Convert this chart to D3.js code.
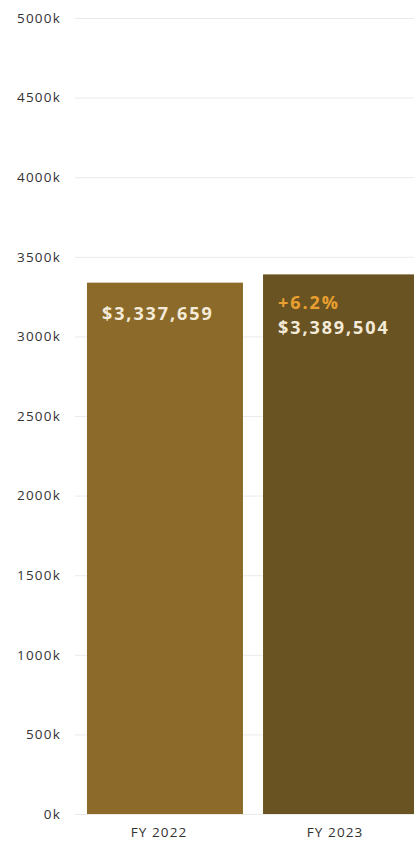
<!DOCTYPE html>
<html>
<head>
<meta charset="utf-8">
<script src="https://cdn.jsdelivr.net/npm/d3@7"></script>
<style>
  html, body { margin: 0; padding: 0; background: #fff; }
  svg { display: block; font-family: "Open Sans", sans-serif; }
</style>
</head>
<body>
<svg id="chart" width="414" height="846"></svg>
<script>
// Annual totals by fiscal year
const years = ["FY 2022", "FY 2023"];
const totals = [3337659, 3389504];
const changeLabels = ["", "+6.2%"];
const barColors = ["#8c6a29", "#6a5322"];
const yTicks = [0, 500000, 1000000, 1500000, 2000000, 2500000, 3000000, 3500000, 4000000, 4500000, 5000000];

const svg = d3.select("#chart");
const margin = { left: 75, top: 18, bottom: 32 };
const height = 846;

const x = d3.scaleBand()
  .domain(years)
  .range([margin.left, 431])
  .paddingInner(0.114)
  .paddingOuter(0.068);

const y = d3.scaleLinear()
  .domain([0, 5000000])
  .range([height - margin.bottom, margin.top]);

// Horizontal gridlines
svg.append("g")
  .selectAll("line")
  .data(yTicks)
  .join("line")
  .attr("x1", margin.left)
  .attr("x2", 414)
  .attr("y1", d => y(d) + 0.5)
  .attr("y2", d => y(d) + 0.5)
  .attr("stroke", "#ebebeb")
  .attr("stroke-width", 1);

// Y axis labels
const yAxis = d3.axisLeft(y)
  .tickValues(yTicks)
  .tickSize(0)
  .tickPadding(0)
  .tickFormat(d => (d / 1000) + "k");

svg.append("g")
  .attr("transform", `translate(61,0)`)
  .call(yAxis)
  .call(g => g.select(".domain").remove())
  .call(g => g.selectAll("text")
    .attr("fill", "#333")
    .attr("font-size", 13.5)
    .attr("letter-spacing", 1.2)
    .attr("font-family", "'Open Sans', sans-serif"));

// Bars
svg.append("g")
  .selectAll("rect")
  .data(years)
  .join("rect")
  .attr("x", d => x(d))
  .attr("y", (d, i) => y(totals[i]))
  .attr("width", x.bandwidth())
  .attr("height", (d, i) => y(0) - y(totals[i]))
  .attr("fill", (d, i) => barColors[i]);

// X axis labels
const xAxis = d3.axisBottom(x).tickSize(0).tickPadding(0);
svg.append("g")
  .attr("transform", `translate(-6,${y(0) + 23})`)
  .call(xAxis)
  .call(g => g.select(".domain").remove())
  .call(g => g.selectAll("text")
    .attr("dy", 0)
    .attr("fill", "#333")
    .attr("font-size", 13.5)
    .attr("letter-spacing", 1.1)
    .attr("font-family", "'Open Sans', sans-serif"));

// Value labels inside bars
const fmt = d3.format("$,");
const labels = svg.append("g")
  .selectAll("g")
  .data(years)
  .join("g")
  .attr("transform", (d, i) => `translate(${x(d) + 15},${y(totals[i])})`);

labels.each(function (d, i) {
  const g = d3.select(this);
  let dy = 37;
  if (changeLabels[i]) {
    g.append("text")
      .attr("y", 35)
      .attr("fill", "#e9a030")
      .attr("font-size", 18)
      .attr("font-weight", 700)
      .attr("letter-spacing", 1.9)
      .text(changeLabels[i]);
    dy = 59.5;
  }
  g.append("text")
    .attr("y", dy)
    .attr("fill", "#f3ead8")
    .attr("font-size", 18)
    .attr("font-weight", 700)
    .attr("letter-spacing", 1.9)
    .text(fmt(totals[i]));
});
</script>
</body>
</html>
